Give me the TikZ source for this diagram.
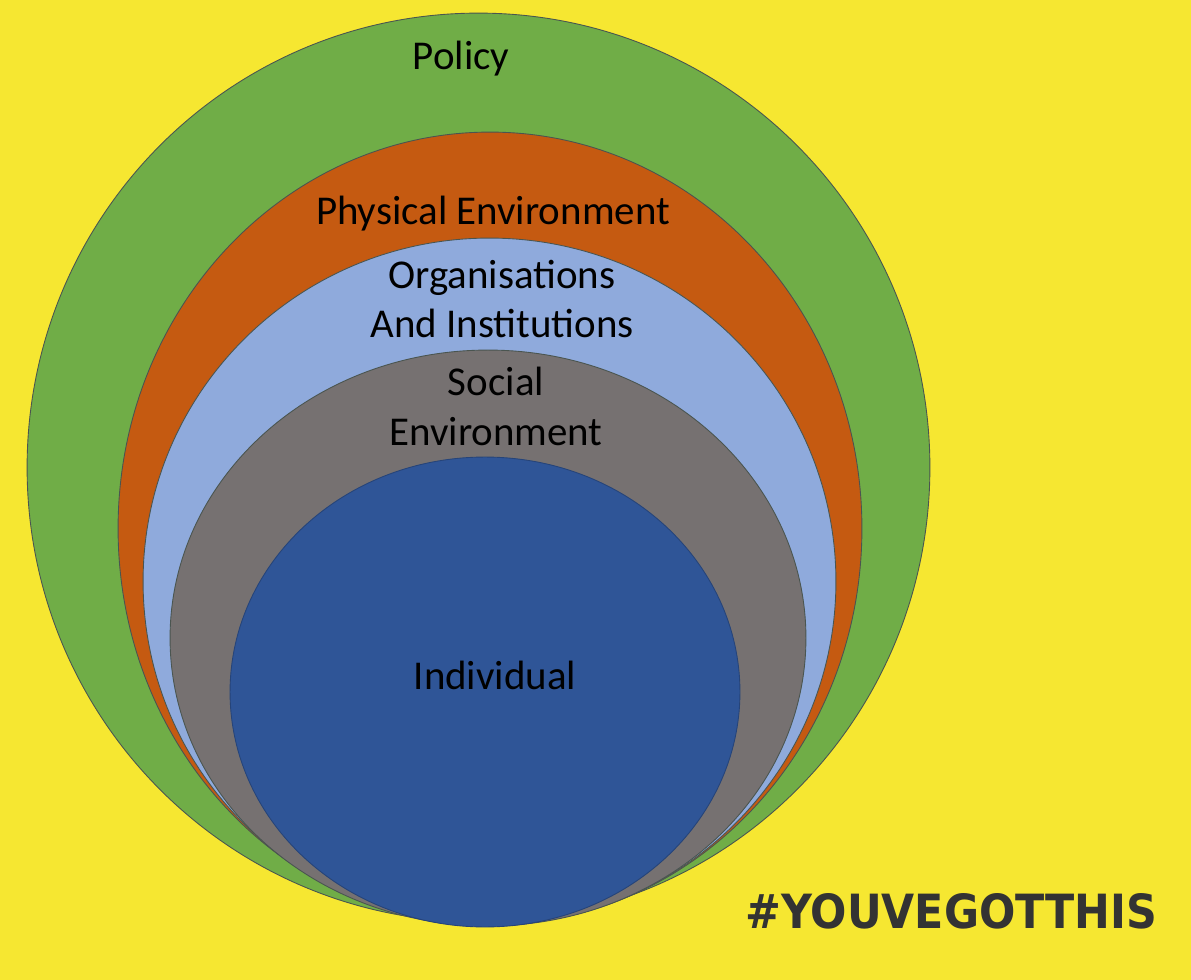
\documentclass[tikz,border=0pt]{standalone}
\usepackage{fontspec}
\setmainfont{Carlito}
\newfontfamily\tagfont{DejaVu Sans}
\usetikzlibrary{shapes.geometric}

\definecolor{bgyellow}{HTML}{F6E731}
\definecolor{policygreen}{HTML}{70AD47}
\definecolor{physorange}{HTML}{C55A11}
\definecolor{orgblue}{HTML}{8FAADC}
\definecolor{socialgray}{HTML}{767171}
\definecolor{indivblue}{HTML}{2F5597}
\definecolor{ringline}{HTML}{4A5550}
\definecolor{tagdark}{HTML}{333333}

\tikzset{
  ring/.style={ellipse, inner sep=0pt, draw=ringline, line width=0.5pt},
  lbl/.style={anchor=base, inner sep=0pt, text=black,
    font=\fontsize{23.3}{27.8}\selectfont},
}

\begin{document}
\begin{tikzpicture}[x=0.02cm, y=-0.02cm]
  % background
  \fill[bgyellow] (0,0) rectangle (1191,980);
  \useasboundingbox (0,0) rectangle (1191,980);

  % nested rings, outermost first
  \node[ring, fill=policygreen, minimum width=18.06cm, minimum height=18.18cm] (policy) at (478.5,467.5) {};
  \node[ring, fill=physorange, minimum width=14.88cm, minimum height=15.86cm] (physical) at (490,528.5) {};
  \node[ring, fill=orgblue, minimum width=13.86cm, minimum height=13.74cm] (orgs) at (489.5,581.5) {};
  \node[ring, fill=socialgray, minimum width=12.72cm, minimum height=11.52cm] (social) at (488,638) {};
  \node[ring, fill=indivblue, draw=indivblue!80!black, minimum width=10.2cm, minimum height=9.4cm] (indiv) at (485,692) {};

  % labels
  \node[lbl] (tpolicy) at (461,70) {Policy};
  \node[lbl] (tphys) at (493,225) {Physical Environment};
  \node[lbl] (torg1) at (502,288) {Organisations};
  \node[lbl] (torg2) at (502,337) {And Institutions};
  \node[lbl] (tsoc1) at (496,395) {Social};
  \node[lbl] (tsoc2) at (496,445) {Environment};
  \node[lbl] (tind) at (495,689) {Individual};

  % hashtag
  \node[anchor=south west, inner sep=0pt, text=tagdark] (tag) at (745,930)
    {\resizebox{8.24cm}{0.70cm}{\tagfont\bfseries \#YOUVEGOTTHIS}};
\end{tikzpicture}
\end{document}
